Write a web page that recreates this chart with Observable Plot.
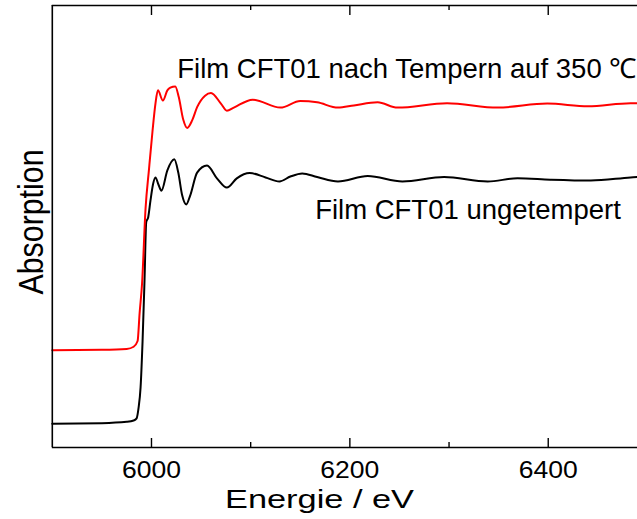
<!DOCTYPE html>
<html><head><meta charset="utf-8">
<script src="https://cdn.jsdelivr.net/npm/d3@7"></script>
<script src="https://cdn.jsdelivr.net/npm/@observablehq/plot@0.6"></script>
<style>html,body{margin:0;padding:0;background:#fff;overflow:hidden}#chart svg{display:block}</style>
</head><body><div id="chart"></div>
<script>
// Energy (eV) and absorption (arbitrary units, offset stacked)
const blackEnergy = [5900, 5950, 5975, 5982, 5985, 5987, 5989, 5991, 5993, 5994.7, 5996.7, 5999, 6001.5, 6004, 6007, 6010, 6016, 6023, 6027, 6031, 6035, 6039, 6046, 6056, 6066, 6076, 6086, 6099, 6115, 6129, 6140, 6152, 6167, 6188, 6218, 6253, 6295, 6339, 6369, 6402, 6443, 6483, 6490];
const blackAbs = [5.4, 5.5, 5.8, 6.1, 6.6, 9.0, 13.6, 24.0, 38.0, 51.0, 52.1, 55.9, 59.5, 61.1, 59.5, 58.1, 62.7, 65.2, 62.2, 57.0, 55.0, 57.0, 62.2, 63.8, 60.9, 58.8, 60.9, 62.1, 61.1, 60.2, 61.3, 62.0, 61.2, 60.2, 61.4, 60.2, 61.2, 60.2, 60.9, 60.6, 60.4, 61.1, 61.2];
const redEnergy = [5900, 5950, 5975, 5982, 5986, 5988, 5990.5, 5994, 5997.5, 6001, 6004, 6006.5, 6011.5, 6016, 6019, 6024, 6027.5, 6032, 6036, 6041, 6046, 6054, 6060, 6070, 6076, 6083, 6102, 6130, 6150, 6167, 6188, 6204, 6228, 6248, 6298, 6349, 6399, 6440, 6483, 6490];
const redAbs = [22.0, 22.1, 22.3, 22.8, 24.1, 30.3, 37.1, 54.0, 63.0, 71.5, 77.8, 80.8, 78.5, 80.8, 81.4, 81.7, 79.3, 74.2, 72.3, 74.0, 77.0, 79.6, 80.2, 77.8, 76.2, 76.9, 78.7, 76.9, 78.4, 78.1, 76.9, 77.4, 78.1, 76.9, 77.9, 76.9, 77.8, 77.2, 77.9, 77.9];
const seriesLabels = ["Film CFT01 ungetempert", "Film CFT01 nach Tempern auf 350 \u2103"];
const labelEnergy = [6165, 6026];
const labelAbs = [51.6, 83.6];
const majorTicks = [6000, 6200, 6400];
const minorTicks = [6100, 6300];
const xDomain = [5900, 6490];
const yDomain = [0, 100];
const xLabel = "Energie / eV";
const yLabel = "Absorption";

const black = blackEnergy.map((e, i) => ({e, a: blackAbs[i]}));
const red = redEnergy.map((e, i) => ({e, a: redAbs[i]}));
const labels = seriesLabels.map((t, i) => ({t, e: labelEnergy[i], a: labelAbs[i]}));

const FONT = "'Liberation Sans', Arial, Helvetica, sans-serif";
const chart = Plot.plot({
  width: 637, height: 519,
  marginLeft: 51.8, marginRight: 0, marginTop: 5, marginBottom: 72,
  style: {fontFamily: FONT, background: "#fff", color: "#000"},
  x: {domain: xDomain, axis: null},
  y: {domain: yDomain, axis: null},
  marks: [
    Plot.line(black, {x: "e", y: "a", stroke: "#000", strokeWidth: 2, curve: "monotone-x"}),
    Plot.line(red, {x: "e", y: "a", stroke: "#ff0000", strokeWidth: 2, curve: "monotone-x"}),
    Plot.ruleY([yDomain[0]], {stroke: "#000", strokeWidth: 1.6}),
    Plot.ruleY([yDomain[1]], {stroke: "#000", strokeWidth: 1.4}),
    Plot.ruleX([xDomain[0]], {stroke: "#000", strokeWidth: 1.6}),
    Plot.tickX(majorTicks, {x: d => d, insetTop: 433, stroke: "#000", strokeWidth: 1.4}),
    Plot.tickX(minorTicks, {x: d => d, insetTop: 437, stroke: "#000", strokeWidth: 1.4}),
    Plot.tickX(majorTicks, {x: d => d, insetBottom: 432, stroke: "#000", strokeWidth: 1.4}),
    Plot.tickX(minorTicks, {x: d => d, insetBottom: 437, stroke: "#000", strokeWidth: 1.4}),
    Plot.text(majorTicks, {x: d => d, frameAnchor: "bottom", lineAnchor: "bottom", dy: 30.5, text: d => String(d), fontSize: 23.5, fill: "#000"}),
    Plot.text([xLabel], {frameAnchor: "bottom", textAnchor: "middle", lineAnchor: "bottom", dx: -25.4, dy: 60, text: d => d, fontSize: 26.5, fill: "#000"}),
    Plot.text([yLabel], {frameAnchor: "left", textAnchor: "middle", rotate: -90, lineAnchor: "bottom", dx: -9, dy: -4.5, text: d => d, fontSize: 35, fill: "#000"}),
    Plot.text(labels, {x: "e", y: "a", text: "t", textAnchor: "start", lineAnchor: "bottom", fontSize: 27.5, fill: "#000"})
  ]
});

// the original's axis texts are drawn horizontally stretched
const stretch = {"6000": 59, "6200": 59, "6400": 59, "Energie / eV": 189, "Absorption": 145};
d3.select(chart).selectAll("text").each(function () {
  const L = stretch[this.textContent];
  if (L) { this.setAttribute("textLength", L); this.setAttribute("lengthAdjust", "spacingAndGlyphs"); }
});
document.getElementById("chart").appendChild(chart);
</script>
</body></html>
